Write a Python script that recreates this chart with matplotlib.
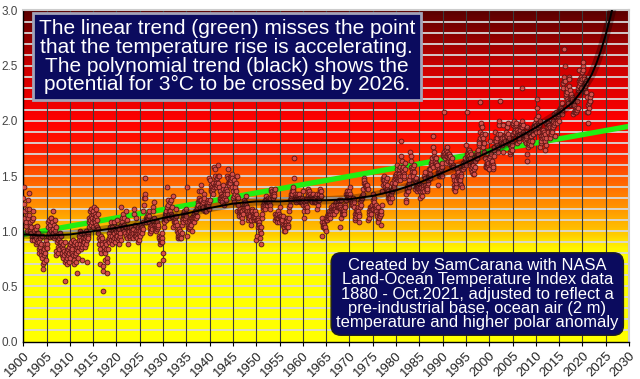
import numpy as np
import matplotlib
matplotlib.use("Agg")
import matplotlib.pyplot as plt
from matplotlib.colors import LinearSegmentedColormap

plt.rcParams['font.family'] = ['Liberation Sans', 'DejaVu Sans']

# monthly values (hundredths of a degree C above pre-industrial), Jan..Dec per row
temps_1900s = [
    130, 125, 140, 118, 110, 112, 105, 108, 120, 115, 100, 112,
    128, 120, 135, 115, 108, 100, 105, 98, 104, 95, 110, 92,
    112, 118, 95, 100, 92, 104, 96, 88, 94, 102, 90, 98,
    105, 98, 92, 84, 90, 80, 86, 94, 78, 88, 82, 96,
    76, 70, 82, 66, 78, 84, 72, 88, 80, 86, 92, 74,
    88, 85, 104, 96, 108, 110, 98, 102, 95, 106, 112, 100,
    112, 108, 96, 118, 102, 98, 106, 94, 100, 110, 96, 104,
    82, 78, 96, 90, 86, 80, 92, 94, 84, 88, 98, 90,
    90, 96, 78, 86, 80, 84, 76, 88, 82, 78, 90, 72,
    55, 74, 80, 70, 82, 76, 84, 78, 72, 80, 86, 88,
]
temps_1910s = [
    88, 76, 90, 82, 86, 80, 84, 78, 92, 74, 70, 88,
    90, 78, 72, 80, 84, 86, 62, 88, 76, 82, 92, 86,
    96, 88, 100, 92, 84, 98, 86, 74, 90, 88, 94, 92,
    98, 90, 86, 94, 100, 88, 96, 72, 92, 98, 96, 94,
    108, 104, 112, 118, 110, 106, 114, 120, 108, 112, 116, 104,
    118, 122, 110, 116, 108, 112, 106, 114, 120, 110, 104, 116,
    98, 102, 88, 94, 84, 92, 70, 96, 80, 90, 88, 94,
    46, 68, 64, 82, 86, 80, 74, 90, 84, 88, 76, 72,
    62, 92, 84, 98, 94, 90, 102, 96, 104, 108, 92, 88,
    104, 96, 92, 100, 108, 94, 98, 102, 90, 96, 94, 100,
]
temps_1920s = [
    110, 104, 96, 100, 92, 88, 94, 102, 96, 98, 106, 92,
    122, 112, 108, 104, 116, 102, 106, 100, 112, 104, 98, 118,
    104, 96, 110, 94, 102, 88, 98, 96, 100, 104, 94, 96,
    102, 98, 104, 96, 100, 94, 98, 102, 116, 120, 98, 96,
    106, 100, 96, 112, 94, 98, 90, 100, 104, 92, 98, 102,
    96, 100, 104, 106, 100, 98, 104, 102, 108, 118, 124, 130,
    148, 134, 130, 112, 108, 112, 110, 114, 112, 116, 118, 114,
    108, 102, 98, 104, 100, 106, 110, 104, 102, 122, 118, 106,
    126, 112, 104, 102, 100, 104, 106, 102, 104, 108, 104, 106,
    96, 70, 94, 92, 88, 90, 92, 96, 94, 90, 98, 80,
]
temps_1930s = [
    74, 104, 110, 108, 112, 114, 110, 116, 118, 122, 140, 124,
    128, 114, 118, 116, 112, 118, 126, 116, 114, 128, 122, 114,
    132, 112, 104, 108, 110, 106, 108, 112, 120, 114, 108, 106,
    100, 94, 96, 98, 102, 96, 94, 98, 100, 96, 94, 98,
    106, 110, 108, 112, 116, 114, 118, 110, 112, 116, 120, 114,
    96, 140, 108, 104, 106, 102, 104, 108, 106, 110, 104, 112,
    106, 100, 110, 112, 114, 110, 116, 112, 108, 114, 112, 118,
    112, 118, 114, 120, 122, 126, 124, 128, 130, 136, 128, 122,
    142, 128, 136, 122, 124, 120, 122, 126, 128, 134, 130, 118,
    118, 122, 120, 118, 124, 126, 122, 128, 124, 126, 120, 148,
]
temps_1940s = [
    128, 146, 136, 138, 142, 136, 140, 138, 134, 144, 140, 158,
    150, 156, 142, 146, 140, 144, 148, 142, 144, 160, 150, 140,
    150, 128, 130, 136, 134, 130, 132, 128, 126, 138, 132, 142,
    124, 130, 132, 136, 134, 128, 138, 136, 134, 150, 148, 144,
    156, 144, 142, 146, 148, 144, 150, 146, 152, 148, 140, 136,
    130, 126, 132, 146, 138, 134, 140, 144, 136, 150, 132, 118,
    130, 124, 118, 116, 114, 118, 120, 116, 114, 118, 112, 108,
    118, 116, 122, 124, 128, 120, 122, 126, 124, 132, 120, 118,
    122, 114, 110, 116, 118, 114, 112, 116, 114, 110, 118, 106,
    120, 118, 116, 114, 112, 110, 114, 116, 118, 112, 116, 110,
]
temps_1950s = [
    92, 96, 110, 104, 112, 110, 108, 106, 104, 100, 94, 104,
    88, 98, 112, 116, 120, 122, 124, 126, 122, 124, 120, 128,
    132, 128, 124, 126, 124, 128, 126, 130, 128, 126, 124, 120,
    130, 136, 138, 134, 136, 132, 134, 130, 136, 134, 132, 138,
    110, 116, 112, 114, 108, 112, 116, 118, 112, 114, 116, 108,
    122, 114, 110, 112, 114, 108, 112, 110, 106, 114, 100, 104,
    104, 100, 106, 110, 108, 106, 112, 104, 106, 110, 104, 112,
    118, 122, 124, 128, 130, 132, 134, 136, 134, 138, 136, 140,
    166, 148, 134, 130, 128, 126, 132, 128, 130, 134, 128, 130,
    132, 130, 134, 128, 126, 130, 128, 126, 128, 130, 126, 128,
]
temps_1960s = [
    124, 136, 112, 118, 122, 124, 126, 124, 128, 122, 118, 130,
    134, 138, 132, 136, 130, 134, 128, 130, 132, 128, 130, 126,
    132, 134, 130, 126, 128, 130, 128, 126, 130, 132, 126, 128,
    120, 134, 124, 128, 130, 128, 134, 136, 138, 136, 132, 132,
    112, 108, 96, 106, 104, 108, 106, 104, 102, 104, 100, 110,
    112, 110, 114, 112, 116, 114, 116, 118, 114, 116, 112, 118,
    118, 122, 120, 116, 118, 122, 124, 120, 118, 116, 120, 124,
    126, 118, 126, 122, 124, 126, 122, 124, 122, 128, 124, 122,
    104, 112, 128, 120, 116, 118, 116, 118, 120, 118, 116, 122,
    124, 122, 128, 134, 136, 134, 132, 130, 132, 134, 132, 136,
]
temps_1970s = [
    134, 140, 130, 128, 126, 128, 124, 126, 130, 124, 128, 122,
    126, 110, 112, 116, 118, 114, 116, 118, 120, 122, 118, 116,
    108, 114, 122, 126, 124, 128, 130, 132, 130, 132, 134, 138,
    144, 148, 146, 142, 144, 140, 142, 140, 138, 140, 142, 138,
    110, 112, 116, 118, 122, 120, 122, 118, 116, 120, 124, 120,
    134, 128, 130, 124, 126, 122, 120, 118, 122, 124, 116, 114,
    122, 110, 108, 114, 112, 116, 114, 118, 116, 106, 118, 124,
    136, 142, 148, 146, 150, 146, 142, 140, 144, 146, 138, 148,
    138, 142, 136, 134, 130, 128, 130, 126, 132, 130, 134, 136,
    136, 130, 144, 140, 138, 142, 140, 146, 144, 148, 150, 152,
]
temps_1980s = [
    150, 160, 148, 156, 150, 146, 152, 148, 156, 150, 158, 146,
    182, 168, 164, 156, 150, 154, 158, 152, 148, 150, 156, 162,
    128, 134, 126, 136, 140, 138, 136, 142, 144, 140, 146, 150,
    172, 168, 164, 158, 156, 154, 152, 150, 158, 154, 160, 146,
    146, 138, 144, 140, 148, 136, 140, 142, 138, 140, 144, 138,
    140, 130, 136, 142, 138, 140, 132, 136, 140, 138, 142, 136,
    150, 154, 148, 142, 140, 138, 136, 140, 138, 144, 146, 148,
    150, 156, 148, 152, 156, 160, 162, 164, 160, 166, 158, 176,
    186, 168, 172, 166, 162, 164, 166, 162, 160, 158, 160, 154,
    142, 150, 154, 156, 150, 152, 154, 156, 152, 158, 150, 162,
]
temps_1990s = [
    168, 170, 208, 172, 168, 166, 170, 168, 162, 174, 176, 168,
    172, 164, 170, 168, 166, 170, 168, 164, 162, 160, 164, 158,
    166, 160, 158, 150, 146, 142, 138, 140, 136, 140, 144, 146,
    156, 152, 154, 150, 148, 150, 146, 148, 144, 146, 142, 152,
    150, 140, 156, 158, 156, 162, 158, 160, 164, 162, 166, 160,
    178, 208, 168, 170, 166, 172, 170, 174, 168, 166, 172, 160,
    156, 170, 160, 158, 154, 152, 162, 160, 156, 152, 158, 164,
    164, 166, 170, 168, 166, 172, 170, 174, 178, 182, 180, 184,
    190, 217, 196, 198, 194, 188, 186, 184, 176, 180, 172, 180,
    166, 188, 158, 160, 158, 162, 164, 158, 160, 162, 156, 166,
]
temps_2000s = [
    156, 182, 168, 170, 162, 160, 162, 164, 160, 156, 158, 168,
    174, 176, 190, 182, 184, 180, 182, 178, 184, 176, 188, 172,
    196, 200, 218, 186, 188, 184, 182, 180, 184, 178, 180, 172,
    196, 186, 184, 182, 180, 182, 186, 188, 190, 194, 186, 198,
    182, 188, 180, 184, 178, 170, 172, 174, 176, 180, 178, 174,
    196, 188, 198, 200, 190, 194, 192, 190, 196, 198, 192, 188,
    180, 190, 184, 182, 184, 188, 190, 194, 192, 196, 194, 200,
    230, 194, 190, 196, 188, 186, 184, 186, 182, 184, 186, 180,
    164, 170, 194, 180, 176, 178, 182, 180, 182, 188, 186, 178,
    186, 182, 182, 188, 190, 188, 194, 196, 194, 192, 198, 190,
]
temps_2010s = [
    196, 202, 220, 212, 204, 198, 194, 196, 190, 196, 200, 176,
    180, 182, 186, 190, 184, 188, 192, 186, 184, 190, 182, 188,
    174, 178, 184, 198, 200, 194, 190, 194, 198, 196, 196, 184,
    194, 194, 190, 188, 192, 194, 190, 194, 198, 200, 206, 196,
    198, 186, 204, 206, 208, 200, 198, 206, 204, 206, 200, 210,
    206, 208, 212, 208, 210, 212, 206, 210, 216, 230, 234, 236,
    240, 265, 250, 236, 226, 222, 224, 226, 230, 220, 218, 216,
    232, 240, 238, 228, 220, 214, 220, 224, 218, 222, 220, 214,
    206, 208, 218, 214, 208, 210, 212, 208, 210, 218, 210, 212,
    228, 230, 246, 236, 232, 238, 234, 230, 240, 236, 238, 244,
]
temps_2020s = [
    250, 253, 246, 240, 238, 226, 230, 232, 236, 226, 234, 222,
    208, 198, 214, 208, 212, 216, 218, 218, 222, 224,
]
start_year = 1900

# linear trend (green), end points
trend_years = [1900, 2030]
trend_vals = [0.97, 1.95]

# polynomial trend (black)
poly_years = [1900, 1905, 1910, 1915, 1920, 1925, 1930, 1935, 1940, 1945, 1950,
              1955, 1960, 1965, 1970, 1975, 1980, 1985, 1990, 1995, 2000, 2005,
              2010, 2015, 2018, 2020, 2022, 2023, 2024, 2025, 2026, 2027]
poly_vals = [0.97, 0.96, 0.97, 1.00, 1.03, 1.07, 1.12, 1.16, 1.21, 1.25, 1.27,
             1.27, 1.28, 1.28, 1.29, 1.32, 1.37, 1.44, 1.53, 1.62, 1.72, 1.82,
             1.94, 2.07, 2.17, 2.28, 2.42, 2.52, 2.64, 2.78, 2.94, 3.12]

x_ticks = list(range(1900, 2031, 5))
y_ticks = [0.0, 0.5, 1.0, 1.5, 2.0, 2.5, 3.0]

note_top = ("The linear trend (green) misses the point\n"
            "that the temperature rise is accelerating.\n"
            "The polynomial trend (black) shows the\n"
            "potential for 3°C to be crossed by 2026.")
note_bottom = ("Created by SamCarana with NASA\n"
               "Land-Ocean Temperature Index data\n"
               "1880 - Oct.2021, adjusted to reflect a\n"
               "pre-industrial base, ocean air (2 m)\n"
               "temperature and higher polar anomaly")

temps = np.array(temps_1900s + temps_1910s + temps_1920s + temps_1930s + temps_1940s
                 + temps_1950s + temps_1960s + temps_1970s + temps_1980s + temps_1990s
                 + temps_2000s + temps_2010s + temps_2020s) / 100.0
t = start_year + (np.arange(len(temps)) + 0.5) / 12.0

fig = plt.figure(figsize=(6.4, 3.79), dpi=100)
ax = fig.add_axes([0.0364, 0.0989, 0.9464, 0.8734])

# background heat gradient
heat = LinearSegmentedColormap.from_list('heat', [
    (0.0, '#ffff00'), (0.8 / 3, '#ffff00'), (0.9 / 3, '#ffe400'), (1.0 / 3, '#ffc400'),
    (1.2 / 3, '#ff9800'), (1.5 / 3, '#ff5a00'), (1.75 / 3, '#ff1a00'), (2.0 / 3, '#ff0000'),
    (2.5 / 3, '#cc0000'), (1.0, '#5a0000')])
grad = np.linspace(0, 1, 300).reshape(-1, 1)
ax.imshow(grad, extent=[1900, 2030, 0, 3], origin='lower', aspect='auto', cmap=heat, zorder=0)

for yv in np.arange(1, 30) / 10:
    ax.axhline(yv, color='#d8d8d8', lw=1.3, zorder=1)
for xv in x_ticks[1:-1]:
    ax.axvline(xv, color='#3a3a3a', lw=0.8, zorder=1.1)

ax.plot(trend_years, trend_vals, color='#22ee11', lw=3.8, zorder=2, solid_capstyle='butt')
ax.scatter(t, temps, s=12, c='#d4504a', edgecolors='#5a1414', linewidths=0.6, zorder=3)
ax.plot(poly_years, poly_vals, color='black', lw=6, alpha=0.3, zorder=4)
ax.plot(poly_years, poly_vals, color='black', lw=1.4, zorder=4.1)

ax.set_xlim(1900, 2030)
ax.set_ylim(0, 3)
ax.set_xticks(x_ticks)
ax.set_yticks(y_ticks)
ax.set_yticklabels([f'{v:.1f}' for v in y_ticks])
ax.set_xticklabels([str(v) for v in x_ticks], rotation=45, ha='right', rotation_mode='anchor')
ax.tick_params(axis='x', length=3, color='black', labelsize=9.5, pad=3, labelcolor='#222222')
ax.tick_params(axis='y', length=0, labelsize=8.5, pad=4, labelcolor='#444444')

for side in ['left', 'bottom']:
    ax.spines[side].set_color('black')
    ax.spines[side].set_linewidth(1)
for side in ['top', 'right']:
    ax.spines[side].set_color('#cccccc')
    ax.spines[side].set_linewidth(1.5)

ax.text(0.336, 0.86, note_top, transform=ax.transAxes, ha='center', va='center',
        fontsize=15, color='white', linespacing=0.98, zorder=6,
        bbox=dict(boxstyle='square,pad=0.28', fc='#0b0b5e', ec='#a3a3b8', lw=2))
ax.text(0.7495, 0.1435, note_bottom, transform=ax.transAxes, ha='center', va='center',
        fontsize=11.9, color='white', linespacing=0.95, zorder=6,
        bbox=dict(boxstyle='round,pad=0.3,rounding_size=0.6', fc='#0b0b5e', ec='#202020', lw=1))

fig.savefig('out.png', dpi=100)
